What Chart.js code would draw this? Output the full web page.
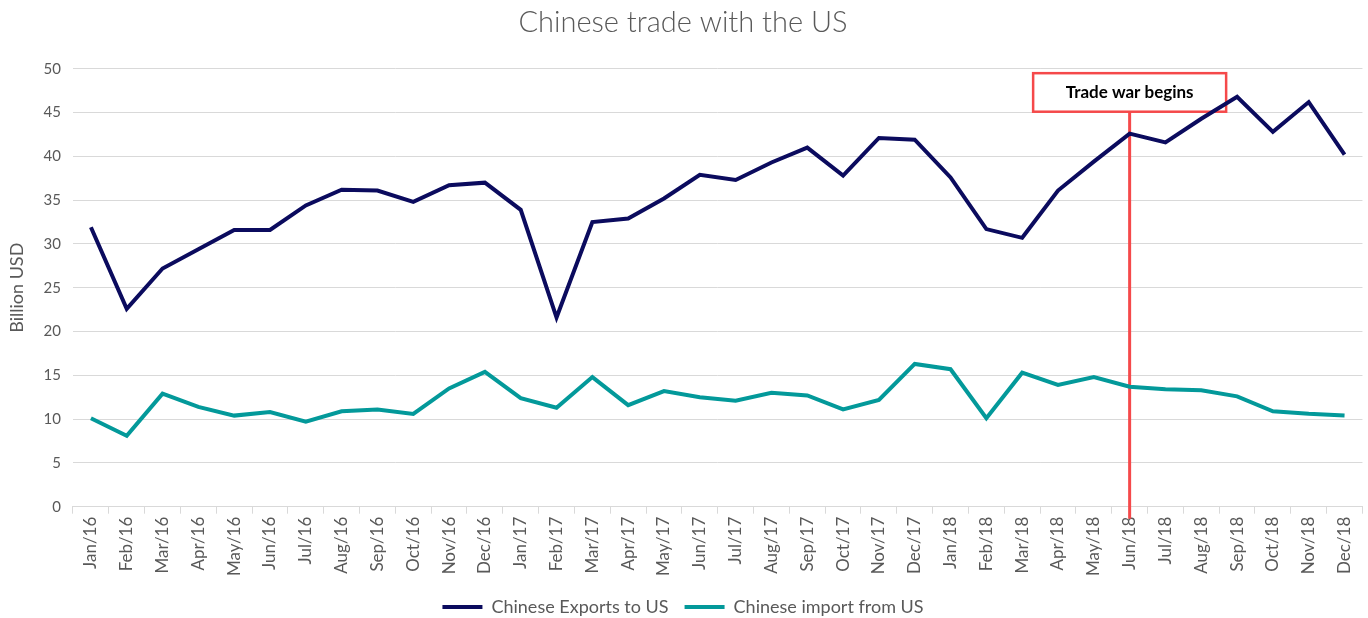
<!DOCTYPE html>
<html>
<head>
<meta charset="utf-8">
<script src="https://cdn.jsdelivr.net/npm/chart.js@4"></script>
<style>
  html, body { margin: 0; padding: 0; background: #fff; }
  #wrap { width: 1368px; height: 618px; }
</style>
</head>
<body>
<div id="wrap"><canvas id="tradeChart"></canvas></div>
<script>
// months shown on the x axis
const months = [
  'Jan/16', 'Feb/16', 'Mar/16', 'Apr/16', 'May/16', 'Jun/16', 'Jul/16', 'Aug/16', 'Sep/16', 'Oct/16', 'Nov/16', 'Dec/16',
  'Jan/17', 'Feb/17', 'Mar/17', 'Apr/17', 'May/17', 'Jun/17', 'Jul/17', 'Aug/17', 'Sep/17', 'Oct/17', 'Nov/17', 'Dec/17',
  'Jan/18', 'Feb/18', 'Mar/18', 'Apr/18', 'May/18', 'Jun/18', 'Jul/18', 'Aug/18', 'Sep/18', 'Oct/18', 'Nov/18', 'Dec/18'
];

// Billion USD
const exportsToUS = [
  31.9, 22.6, 27.2, 29.4, 31.6, 31.6, 34.4, 36.2, 36.1, 34.8, 36.7, 37.0,
  33.9, 21.6, 32.5, 32.9, 35.2, 37.9, 37.3, 39.3, 41.0, 37.8, 42.1, 41.9,
  37.6, 31.7, 30.7, 36.1, 39.4, 42.6, 41.6, 44.3, 46.8, 42.8, 46.2, 40.2
];
const importsFromUS = [
  10.1, 8.1, 12.9, 11.4, 10.4, 10.8, 9.7, 10.9, 11.1, 10.6, 13.5, 15.4,
  12.4, 11.3, 14.8, 11.6, 13.2, 12.5, 12.1, 13.0, 12.7, 11.1, 12.2, 16.3,
  15.7, 10.1, 15.3, 13.9, 14.8, 13.7, 13.4, 13.3, 12.6, 10.9, 10.6, 10.4
];

// trade war marker
const eventMonth = 'Jun/18';
const eventText = 'Trade war begins';
const eventBoxTop = 49.5;
const eventBoxBottom = 45.1;

const textGrey = '#595959';
const gridGrey = '#d9d9d9';
const navy = '#0b0b5e';
const teal = '#03999a';
const red = '#f5494a';

// draws the red box and the vertical line at the event month
const eventMarker = {
  id: 'eventMarker',
  beforeDatasetsDraw(chart) {
    const x = chart.scales.x;
    const y = chart.scales.y;
    const ctx = chart.ctx;
    const px = x.getPixelForValue(months.indexOf(eventMonth));
    const top = y.getPixelForValue(eventBoxTop);
    const bottom = y.getPixelForValue(eventBoxBottom);
    const w = 193;

    ctx.save();
    ctx.strokeStyle = red;
    ctx.lineWidth = 3;
    ctx.beginPath();
    ctx.moveTo(px, bottom);
    ctx.lineTo(px, y.bottom + 12);
    ctx.stroke();

    ctx.fillStyle = '#fff';
    ctx.fillRect(px - w / 2, top, w, bottom - top);
    ctx.lineWidth = 2.5;
    ctx.strokeRect(px - w / 2, top, w, bottom - top);

    ctx.fillStyle = '#000';
    ctx.font = 'bold 17px Lato';
    ctx.textAlign = 'center';
    ctx.textBaseline = 'middle';
    ctx.fillText(eventText, px, (top + bottom) / 2);
    ctx.restore();
  }
};

const ctxTrade = document.getElementById('tradeChart').getContext('2d');
const tradeChart = new Chart(ctxTrade, {
  type: 'line',
  data: {
    labels: months,
    datasets: [{
      label: 'Chinese Exports to US',
      data: exportsToUS,
      borderColor: navy,
      backgroundColor: navy,
      borderWidth: 4,
      pointRadius: 0,
      tension: 0
    }, {
      label: 'Chinese import from US',
      data: importsFromUS,
      borderColor: teal,
      backgroundColor: teal,
      borderWidth: 4,
      pointRadius: 0,
      tension: 0
    }]
  },
  options: {
    responsive: true,
    maintainAspectRatio: false,
    animation: false,
    layout: { padding: { left: 2, right: 4, top: 0, bottom: -8 } },
    plugins: {
      title: {
        display: true,
        text: 'Chinese trade with the US',
        color: textGrey,
        font: { family: 'Lato', size: 29, weight: 300 },
        padding: { top: 5, bottom: 29 }
      },
      legend: {
        position: 'bottom',
        labels: {
          color: textGrey,
          font: { family: 'Lato', size: 18 },
          usePointStyle: true,
          pointStyle: 'line',
          pointStyleWidth: 40,
          padding: 16
        }
      },
      tooltip: { enabled: false }
    },
    scales: {
      x: {
        offset: true,
        grid: {
          offset: true,
          drawOnChartArea: false,
          drawTicks: true,
          tickLength: 7,
          color: gridGrey
        },
        border: { color: gridGrey },
        ticks: {
          color: textGrey,
          font: { family: 'Lato', size: 17 },
          minRotation: 90,
          maxRotation: 90,
          autoSkip: false,
          padding: 3
        },
        // a little room between the month labels and the legend
        afterFit(scale) { scale.height += 3; }
      },
      y: {
        min: 0,
        max: 50,
        ticks: {
          stepSize: 5,
          color: textGrey,
          font: { family: 'Lato', size: 15 },
          padding: 12
        },
        grid: { color: gridGrey, drawTicks: false },
        border: { display: false },
        title: {
          display: true,
          text: 'Billion USD',
          color: textGrey,
          font: { family: 'Lato', size: 18 },
          padding: 4
        }
      }
    }
  },
  plugins: [eventMarker]
});
</script>
</body>
</html>
